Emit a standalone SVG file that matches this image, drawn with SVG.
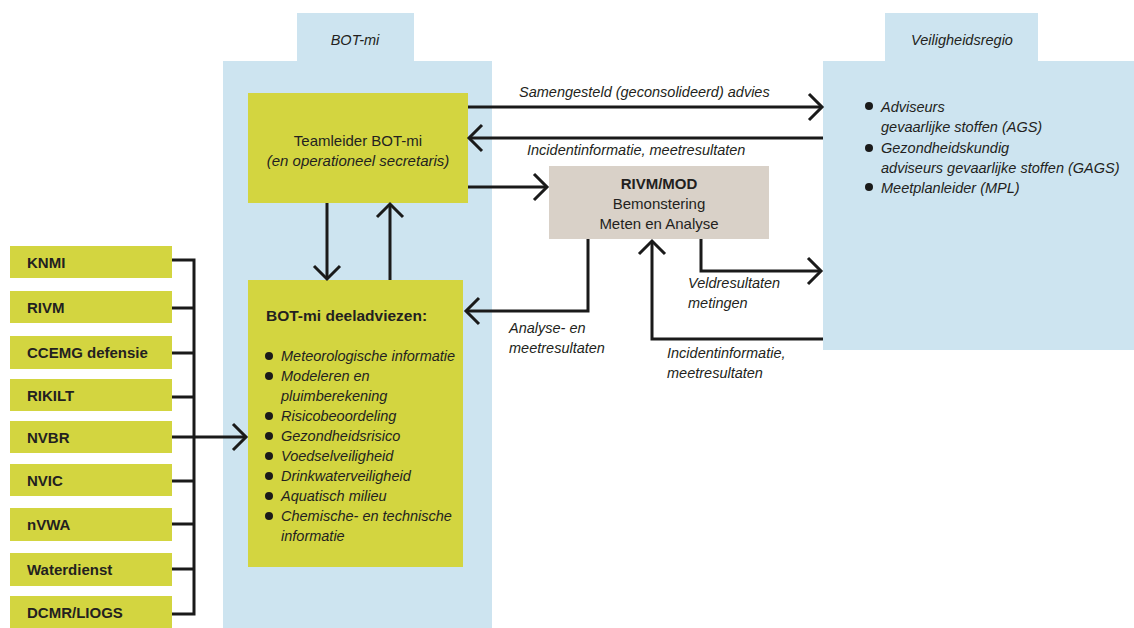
<svg xmlns="http://www.w3.org/2000/svg" width="1134" height="628" viewBox="0 0 1134 628">
<defs>
<style>
.panel{fill:#cde4f0}
.yel{fill:#d3d540}
.beige{fill:#d9d1c8}
text{font-family:"Liberation Sans",Arial,sans-serif;fill:#231f20}
.it{font-style:italic;font-size:14.5px}
.bd{font-weight:bold;font-size:15px}
.reg{font-size:15px}
.ln{fill:none;stroke:#1a1a1a;stroke-width:3}
.bul{fill:#1a1a1a}
</style>
<marker id="ah" viewBox="0 0 20 30" markerWidth="20" markerHeight="30" refX="16" refY="15" orient="auto" markerUnits="userSpaceOnUse">
<path d="M3,2 L16,15 L3,28" fill="none" stroke="#1a1a1a" stroke-width="3"/>
</marker>
</defs>
<rect width="1134" height="628" fill="#ffffff"/>

<g id="bot-mi-panel">
<rect class="panel" x="297" y="13" width="117" height="49"/>
<rect class="panel" x="223" y="61" width="269" height="567"/>
<text class="it" x="355" y="45" text-anchor="middle">BOT-mi</text>
</g>

<g id="veiligheidsregio">
<rect class="panel" x="885" y="13" width="153" height="49"/>
<rect class="panel" x="823" y="61" width="311" height="289"/>
<text class="it" x="962" y="45" text-anchor="middle">Veiligheidsregio</text>
<circle class="bul" cx="869" cy="106" r="4"/>
<text class="it" x="881" y="112">Adviseurs</text>
<text class="it" x="881" y="132">gevaarlijke stoffen (AGS)</text>
<circle class="bul" cx="869" cy="148" r="4"/>
<text class="it" x="881" y="153">Gezondheidskundig</text>
<text class="it" x="881" y="173">adviseurs gevaarlijke stoffen (GAGS)</text>
<circle class="bul" cx="869" cy="187" r="4"/>
<text class="it" x="881" y="193">Meetplanleider (MPL)</text>
</g>

<g id="teamleider">
<rect class="yel" x="248" y="93" width="220" height="110"/>
<text class="reg" x="358" y="146" text-anchor="middle">Teamleider BOT-mi</text>
<text class="reg" x="358" y="166" text-anchor="middle" font-style="italic">(en operationeel secretaris)</text>
</g>

<g id="rivm-mod">
<rect class="beige" x="549" y="166" width="220" height="73"/>
<text class="reg" x="659" y="189" text-anchor="middle" font-weight="bold">RIVM/MOD</text>
<text class="reg" x="659" y="209" text-anchor="middle">Bemonstering</text>
<text class="reg" x="659" y="229" text-anchor="middle">Meten en Analyse</text>
</g>

<g id="deeladviezen">
<rect class="yel" x="248" y="280" width="215" height="287"/>
<text x="266" y="321" font-weight="bold" font-size="15.5px">BOT-mi deeladviezen:</text>
<circle class="bul" cx="269" cy="356" r="4"/>
<text class="it" x="281" y="361">Meteorologische informatie</text>
<circle class="bul" cx="269" cy="376" r="4"/>
<text class="it" x="281" y="381">Modeleren en</text>
<text class="it" x="281" y="401">pluimberekening</text>
<circle class="bul" cx="269" cy="416" r="4"/>
<text class="it" x="281" y="421">Risicobeoordeling</text>
<circle class="bul" cx="269" cy="436" r="4"/>
<text class="it" x="281" y="441">Gezondheidsrisico</text>
<circle class="bul" cx="269" cy="456" r="4"/>
<text class="it" x="281" y="461">Voedselveiligheid</text>
<circle class="bul" cx="269" cy="476" r="4"/>
<text class="it" x="281" y="481">Drinkwaterveiligheid</text>
<circle class="bul" cx="269" cy="496" r="4"/>
<text class="it" x="281" y="501">Aquatisch milieu</text>
<circle class="bul" cx="269" cy="516" r="4"/>
<text class="it" x="281" y="521">Chemische- en technische</text>
<text class="it" x="281" y="541">informatie</text>
</g>

<g id="knmi"><rect class="yel" x="10" y="246" width="162" height="32"/><text class="bd" x="27" y="268">KNMI</text></g>
<g id="rivm"><rect class="yel" x="10" y="291" width="162" height="32"/><text class="bd" x="27" y="313">RIVM</text></g>
<g id="ccemg"><rect class="yel" x="10" y="336" width="162" height="33"/><text class="bd" x="27" y="358">CCEMG defensie</text></g>
<g id="rikilt"><rect class="yel" x="10" y="379" width="162" height="32"/><text class="bd" x="27" y="401">RIKILT</text></g>
<g id="nvbr"><rect class="yel" x="10" y="421" width="162" height="32"/><text class="bd" x="27" y="443">NVBR</text></g>
<g id="nvic"><rect class="yel" x="10" y="464" width="162" height="32"/><text class="bd" x="27" y="486">NVIC</text></g>
<g id="nvwa"><rect class="yel" x="10" y="508" width="162" height="33"/><text class="bd" x="27" y="530">nVWA</text></g>
<g id="waterdienst"><rect class="yel" x="10" y="553" width="162" height="33"/><text class="bd" x="27" y="575">Waterdienst</text></g>
<g id="dcmr"><rect class="yel" x="10" y="596" width="162" height="32"/><text class="bd" x="27" y="618">DCMR/LIOGS</text></g>

<g id="connectors">
<path class="ln" d="M468,107 H822" marker-end="url(#ah)"/>
<path class="ln" d="M823,138 H469" marker-end="url(#ah)"/>
<path class="ln" d="M468,187 H547" marker-end="url(#ah)"/>
<path class="ln" d="M327,203 V279" marker-end="url(#ah)"/>
<path class="ln" d="M390,280 V204" marker-end="url(#ah)"/>
<path class="ln" d="M588,239 V311 H466" marker-end="url(#ah)"/>
<path class="ln" d="M701,239 V271 H821" marker-end="url(#ah)"/>
<path class="ln" d="M823,339 H652 V241" marker-end="url(#ah)"/>
<path class="ln" d="M172,260 H194 M172,308 H194 M172,353 H194 M172,397 H194 M172,481 H194 M172,524 H194 M172,569 H194 M172,614 H194 M194,258.5 V615.5"/>
<path class="ln" d="M172,437 H246" marker-end="url(#ah)"/>
<text class="it" x="519" y="97">Samengesteld (geconsolideerd) advies</text>
<text class="it" x="527" y="155">Incidentinformatie, meetresultaten</text>
<text class="it" x="509" y="333">Analyse- en</text>
<text class="it" x="509" y="353">meetresultaten</text>
<text class="it" x="688" y="288">Veldresultaten</text>
<text class="it" x="688" y="308">metingen</text>
<text class="it" x="667" y="358">Incidentinformatie,</text>
<text class="it" x="667" y="378">meetresultaten</text>
</g>
</svg>
